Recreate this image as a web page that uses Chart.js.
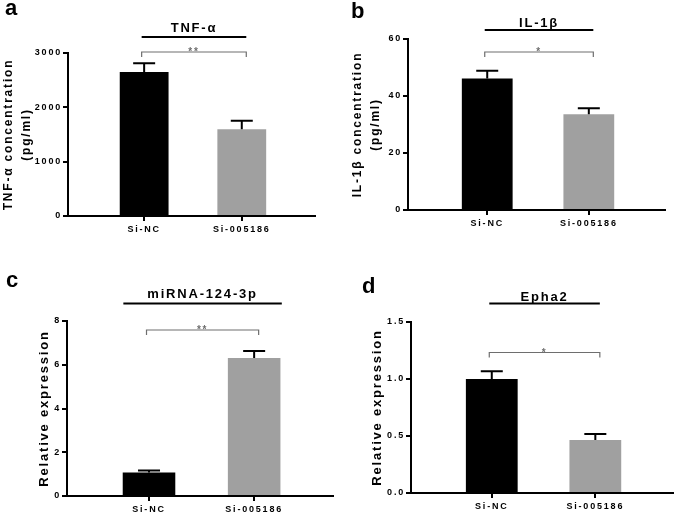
<!DOCTYPE html>
<html>
<head>
<meta charset="utf-8">
<script src="https://cdn.jsdelivr.net/npm/chart.js@4.4.0/dist/chart.umd.min.js"></script>
<style>
    body { margin: 0; background: #fff; overflow: hidden; }
    #figure { position: relative; width: 675px; height: 516px; }
    #figure canvas { position: absolute; }
</style>
</head>
<body>
<div id="figure">
    <canvas id="chart-a" width="340" height="260" style="left:0;top:0"></canvas>
    <canvas id="chart-b" width="335" height="260" style="left:340px;top:0"></canvas>
    <canvas id="chart-c" width="340" height="256" style="left:0;top:260px"></canvas>
    <canvas id="chart-d" width="335" height="256" style="left:340px;top:260px"></canvas>
</div>
<script>
(function () {
    "use strict";

    // Groups
    var groups = ["Si-NC", "Si-005186"];
    var barColors = ["#000000", "#a0a0a0"];

    // a - TNF-α (pg/ml)
    var tnfMean = [2650, 1595];
    var tnfErr = [160, 160];
    var tnfTicks = [0, 1000, 2000, 3000];

    // b - IL-1β (pg/ml)
    var ilMean = [46.1, 33.6];
    var ilErr = [2.8, 2.1];
    var ilTicks = [0, 20, 40, 60];

    // c - miRNA-124-3p
    var mirMean = [1.08, 6.31];
    var mirErr = [0.09, 0.32];
    var mirTicks = [0, 2, 4, 6, 8];

    // d - Epha2
    var ephaMean = [1.0, 0.465];
    var ephaErr = [0.067, 0.052];
    var ephaTicks = [0, 0.5, 1.0, 1.5];

    var FONT = '"Liberation Sans", Arial, sans-serif';
    var SPACING = "1.8px";
    Chart.defaults.font.family = FONT;
    Chart.defaults.color = "#000";


    // Panel letter, title bar, significance bracket and error bars
    var decor = {
        id: "decor",
        beforeDraw: function (chart) {
            chart.ctx.letterSpacing = SPACING;
        },
        afterDatasetsDraw: function (chart, args, o) {
            var ctx = chart.ctx;
            var y = chart.scales.y;
            ctx.save();
            ctx.strokeStyle = "#000";
            ctx.lineWidth = 2;
            chart.getDatasetMeta(0).data.forEach(function (bar, i) {
                var top = y.getPixelForValue(o.mean[i] + o.err[i]);
                ctx.beginPath();
                ctx.moveTo(bar.x, bar.y);
                ctx.lineTo(bar.x, top);
                ctx.moveTo(bar.x - 11, top);
                ctx.lineTo(bar.x + 11, top);
                ctx.stroke();
            });
            ctx.restore();
        },
        afterDraw: function (chart, args, o) {
            var ctx = chart.ctx;
            var bars = chart.getDatasetMeta(0).data;
            var mid = (bars[0].x + bars[1].x) / 2 + 1;
            var half = (bars[1].x - bars[0].x) / 2 + 3.5;

            ctx.save();
            ctx.fillStyle = "#000";
            ctx.strokeStyle = "#000";

            ctx.letterSpacing = "0px";
            ctx.font = "bold 22px " + FONT;
            ctx.textAlign = "left";
            ctx.textBaseline = "alphabetic";
            ctx.fillText(o.letter, o.letterX, o.letterY);

            ctx.letterSpacing = SPACING;
            ctx.font = "bold 13px " + FONT;
            ctx.textAlign = "center";
            ctx.textBaseline = "middle";
            ctx.fillText(o.title, mid, o.titleY);
            var lineHalf = Math.max(half, ctx.measureText(o.title).width / 2 + 24);
            ctx.lineWidth = 2;
            ctx.beginPath();
            ctx.moveTo(mid - lineHalf, o.lineY);
            ctx.lineTo(mid + lineHalf, o.lineY);
            ctx.stroke();

            ctx.strokeStyle = "#6e6e6e";
            ctx.lineWidth = 1.2;
            ctx.beginPath();
            ctx.moveTo(mid - half, o.bracketY + 5);
            ctx.lineTo(mid - half, o.bracketY);
            ctx.lineTo(mid + half, o.bracketY);
            ctx.lineTo(mid + half, o.bracketY + 5);
            ctx.stroke();

            ctx.fillStyle = "#6e6e6e";
            ctx.font = "bold 10px " + FONT;
            ctx.textBaseline = "alphabetic";
            ctx.fillText(o.stars, mid, o.bracketY + 3);
            ctx.restore();
        }
    };


    function makeChart(id, mean, err, ticks, yTitle, box, fmt, decorOpts) {
        decorOpts.mean = mean;
        decorOpts.err = err;
        var ctx = document.getElementById(id).getContext("2d");
        return new Chart(ctx, {
            type: "bar",
            data: {
                datasets: [{
                    data: mean.map(function (v, i) { return {x: i, y: v}; }),
                    backgroundColor: barColors,
                    barPercentage: 0.5,
                    categoryPercentage: 1
                }]
            },
            options: {
                responsive: false,
                animation: false,
                layout: {padding: {left: 0, top: box.top, right: box.right, bottom: 0}},
                plugins: {
                    legend: {display: false},
                    tooltip: {enabled: false},
                    decor: decorOpts
                },
                scales: {
                    x: {
                        type: "linear",
                        offset: false,
                        min: -0.78,
                        max: 1.75,
                        afterFit: function (s) { s.height = box.xh; },
                        afterBuildTicks: function (s) {
                            s.ticks = groups.map(function (g, i) { return {value: i}; });
                        },
                        grid: {offset: false, drawOnChartArea: false, color: "#000", lineWidth: 2, tickLength: 5},
                        border: {color: "#000", width: 2},
                        ticks: {
                            callback: function (v, i) { return groups[i]; },
                            font: {size: 9, weight: "bold"},
                            color: "#000",
                            maxRotation: 0,
                            padding: 3
                        }
                    },
                    y: {
                        min: ticks[0],
                        max: ticks[ticks.length - 1],
                        afterFit: function (s) { s.width = box.left; },
                        afterBuildTicks: function (s) {
                            s.ticks = ticks.map(function (v) { return {value: v}; });
                        },
                        grid: {drawOnChartArea: false, color: "#000", lineWidth: 2, tickLength: 5},
                        border: {color: "#000", width: 2},
                        ticks: {callback: fmt, font: {size: 9, weight: "bold"}, color: "#000", padding: 1},
                        title: {
                            display: true,
                            text: yTitle,
                            color: "#000",
                            font: {size: box.ts, weight: "bold", lineHeight: 1.5},
                            padding: {top: box.tp, bottom: 0}
                        }
                    }
                }
            },
            plugins: [decor]
        });
    }

    var plain = function (v) { return String(v); };
    var oneDecimal = function (v) { return v.toFixed(1); };

    makeChart("chart-a", tnfMean, tnfErr, tnfTicks, ["TNF-α concentration", "(pg/ml)"],
        {left: 68, top: 53, right: 25, xh: 44, tp: 0, ts: 12}, plain,
        {letter: "a", letterX: 5, letterY: 15, title: "TNF-α", stars: "**", titleY: 28.5, lineY: 37, bracketY: 52});

    makeChart("chart-b", ilMean, ilErr, ilTicks, ["IL-1β concentration", "(pg/ml)"],
        {left: 68, top: 39, right: 10, xh: 50, tp: 9, ts: 12}, plain,
        {letter: "b", letterX: 11, letterY: 18, title: "IL-1β", stars: "*", titleY: 23, lineY: 30, bracketY: 52});

    makeChart("chart-c", mirMean, mirErr, mirTicks, "Relative expression",
        {left: 67, top: 61, right: 7, xh: 20, tp: 35, ts: 13}, plain,
        {letter: "c", letterX: 6, letterY: 27, title: "miRNA-124-3p", stars: "**", titleY: 34, lineY: 43.5, bracketY: 70});

    makeChart("chart-d", ephaMean, ephaErr, ephaTicks, "Relative expression",
        {left: 71, top: 62, right: 2, xh: 23, tp: 27.5, ts: 13}, oneDecimal,
        {letter: "d", letterX: 22, letterY: 33, title: "Epha2", stars: "*", titleY: 37, lineY: 43.5, bracketY: 92.5});

})();
</script>
</body>
</html>
